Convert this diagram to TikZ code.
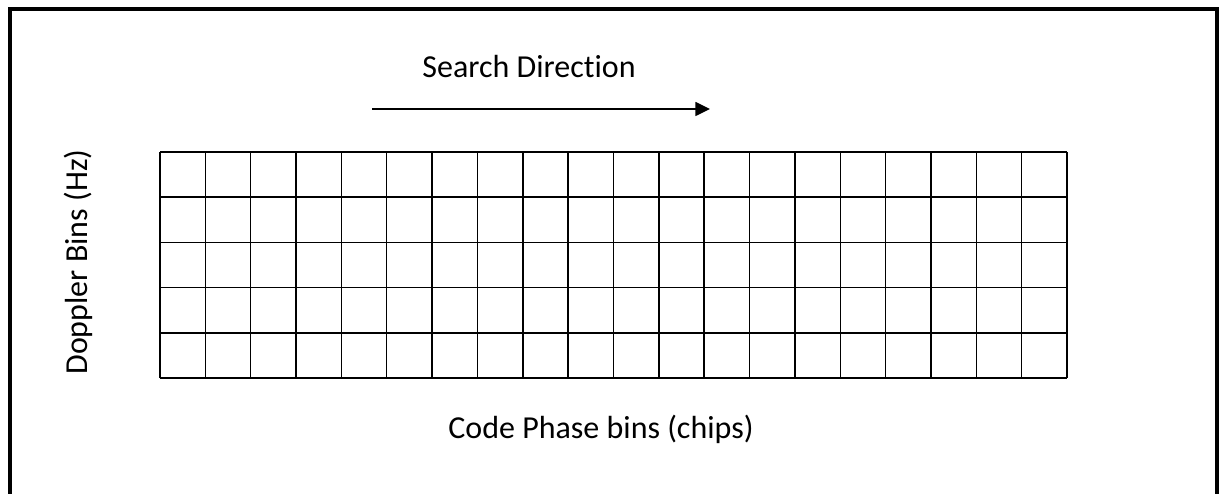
\documentclass[tikz,border=0pt]{standalone}
\usepackage{fontspec}
\setmainfont[Ligatures=NoCommon]{Carlito}
\usepackage{tikz}
\usetikzlibrary{arrows.meta}
\tikzset{binline/.style={line width=1.1pt},
  labeltext/.style={font=\fontsize{24}{28}\selectfont, inner sep=0pt}
}

\begin{document}
\begin{tikzpicture}[x=0.75pt,y=0.75pt]
      \useasboundingbox (0,0) rectangle (1219,493);
      \draw[line width=3pt] (9.5,-20) -- (9.5,483.5) -- (1216.5,483.5) -- (1216.5,-20);
      \foreach \i in {0,...,20}
        \draw[binline] (160+\i*45.35,115) -- (160+\i*45.35,341);
      \foreach \j in {0,...,5}
        \draw[binline] (160,115+\j*45.2) -- (1067,115+\j*45.2);
      \node[labeltext] (search) at (529,426) {Search Direction};
      \coordinate (arrowstart) at (372,384);
      \coordinate (arrowend) at (710,384);
      \draw[line width=1.1pt,-{Triangle[length=11pt,width=10.5pt]}] (arrowstart) -- (arrowend);
      \node[labeltext,rotate=90] (doppler) at (78,231) {Doppler Bins (Hz)};
      \node[labeltext] (codephase) at (601,64) {Code Phase bins (chips)};
    \end{tikzpicture}
\end{document}
